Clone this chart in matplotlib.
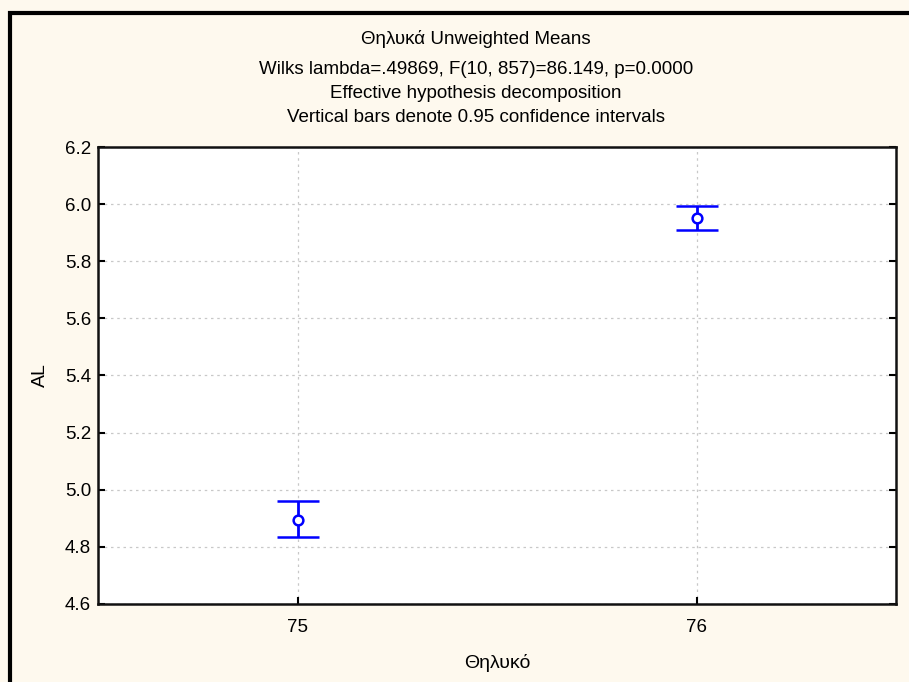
import matplotlib
matplotlib.use("Agg")
import matplotlib.pyplot as plt
from matplotlib.patches import Rectangle
import numpy as np

plt.rcParams['font.family'] = ['Liberation Sans', 'DejaVu Sans']

categories = [75, 76]
means = [4.895, 5.951]
upper = [4.961, 5.992]
lower = [4.834, 5.909]
yticks = [4.6, 4.8, 5.0, 5.2, 5.4, 5.6, 5.8, 6.0, 6.2]

title_lines = ["Θηλυκά Unweighted Means",
               "Wilks lambda=.49869, F(10, 857)=86.149, p=0.0000",
               "Effective hypothesis decomposition",
               "Vertical bars denote 0.95 confidence intervals"]

W, H = 909, 682
fig = plt.figure(figsize=(W/100, H/100), dpi=100, facecolor='#fef9ee')
ax = fig.add_axes([98/W, 1-604/H, (896-98)/W, (604-147)/H])
ax.set_facecolor('white')

means_a = np.array(means)
yerr = np.array([means_a - np.array(lower), np.array(upper) - means_a])
ax.errorbar(categories, means, yerr=yerr, fmt='o', color='#0000ff',
            ecolor='#0000ff', elinewidth=2, capsize=15, capthick=2,
            markersize=7, markerfacecolor='white', markeredgewidth=1.8,
            markeredgecolor='#0000ff', zorder=3)

ax.set_xlim(74.5, 76.5)
ax.set_ylim(4.6, 6.2)
ax.set_xticks(categories)
ax.set_xticklabels([str(c) for c in categories])
ax.set_yticks(yticks)
ax.set_yticklabels([f"{v:.1f}" for v in yticks])
ax.grid(True, linestyle=(0, (2, 3)), color='#c8c8c8', linewidth=0.9)
ax.tick_params(direction='in', length=5, width=1.5, labelsize=13.5,
               right=True, top=False)
ax.tick_params(axis='x', pad=11)
ax.tick_params(axis='y', pad=5)
for s in ax.spines.values():
    s.set_linewidth(1.8)
    s.set_color('#111111')

ax.set_xlabel("Θηλυκό", fontsize=14, va='center')
ax.xaxis.set_label_coords(0.5, (604-663)/457)
ax.set_ylabel("AL", fontsize=14, va='center')
ax.yaxis.set_label_coords((40-98)/798, 0.5)

ys = [39, 69, 94, 118]
for t, y in zip(title_lines, ys):
    fig.text(476/W, 1-y/H, t, ha='center', va='center', fontsize=13.5)

fig.patches.append(Rectangle((10/W, -0.1), 1.2, 1-13/H + 0.1, transform=fig.transFigure,
                             fill=False, edgecolor='black', linewidth=3, clip_on=False))

fig.savefig("out.png", dpi=100, facecolor=fig.get_facecolor())
